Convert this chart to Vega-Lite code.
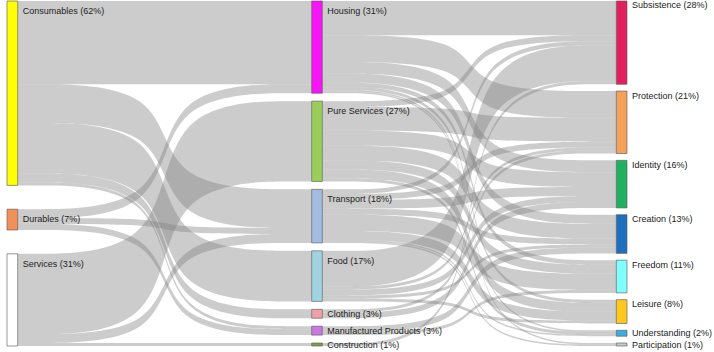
{
  "$schema": "https://vega.github.io/schema/vega-lite/v6.json",
  "width": 620,
  "height": 345,
  "autosize": "none",
  "padding": {"left": 7, "top": 1, "right": 87, "bottom": 6},
  "background": "white",
  "config": {"view": {"stroke": null}},
  "data": {"values": [
      {"s": "Consumables", "t": "Housing", "v": 28},
      {"s": "Consumables", "t": "Transport", "v": 13},
      {"s": "Consumables", "t": "Food", "v": 17},
      {"s": "Consumables", "t": "Clothing", "v": 3},
      {"s": "Consumables", "t": "Manufactured Products", "v": 1},
      {"s": "Durables", "t": "Housing", "v": 3},
      {"s": "Durables", "t": "Transport", "v": 2},
      {"s": "Durables", "t": "Manufactured Products", "v": 2},
      {"s": "Services", "t": "Pure Services", "v": 27},
      {"s": "Services", "t": "Transport", "v": 3},
      {"s": "Services", "t": "Construction", "v": 1},
      {"s": "Housing", "t": "Subsistence", "v": 11.5},
      {"s": "Housing", "t": "Protection", "v": 9},
      {"s": "Housing", "t": "Identity", "v": 4},
      {"s": "Housing", "t": "Creation", "v": 3},
      {"s": "Housing", "t": "Freedom", "v": 1.5},
      {"s": "Housing", "t": "Leisure", "v": 1},
      {"s": "Housing", "t": "Understanding", "v": 0.5},
      {"s": "Housing", "t": "Participation", "v": 0.5},
      {"s": "Pure Services", "t": "Subsistence", "v": 2},
      {"s": "Pure Services", "t": "Protection", "v": 8},
      {"s": "Pure Services", "t": "Identity", "v": 5},
      {"s": "Pure Services", "t": "Creation", "v": 5},
      {"s": "Pure Services", "t": "Freedom", "v": 3},
      {"s": "Pure Services", "t": "Leisure", "v": 3},
      {"s": "Pure Services", "t": "Understanding", "v": 1},
      {"s": "Transport", "t": "Subsistence", "v": 1.5},
      {"s": "Transport", "t": "Protection", "v": 2},
      {"s": "Transport", "t": "Identity", "v": 3},
      {"s": "Transport", "t": "Creation", "v": 2},
      {"s": "Transport", "t": "Freedom", "v": 5.5},
      {"s": "Transport", "t": "Leisure", "v": 3},
      {"s": "Transport", "t": "Understanding", "v": 0.5},
      {"s": "Transport", "t": "Participation", "v": 0.5},
      {"s": "Food", "t": "Subsistence", "v": 12},
      {"s": "Food", "t": "Protection", "v": 1},
      {"s": "Food", "t": "Identity", "v": 2},
      {"s": "Food", "t": "Creation", "v": 1},
      {"s": "Food", "t": "Leisure", "v": 1},
      {"s": "Clothing", "t": "Protection", "v": 1},
      {"s": "Clothing", "t": "Identity", "v": 2},
      {"s": "Manufactured Products", "t": "Creation", "v": 2},
      {"s": "Manufactured Products", "t": "Freedom", "v": 1},
      {"s": "Construction", "t": "Subsistence", "v": 1}
  ]},
  "transform": [
    {"calculate": "indexof(['Consumables','Durables','Services','Housing','Pure Services','Transport','Food','Clothing','Manufactured Products','Construction','Subsistence','Protection','Identity','Creation','Freedom','Leisure','Understanding','Participation'], datum.s)", "as": "sord"},
    {"calculate": "indexof(['Consumables','Durables','Services','Housing','Pure Services','Transport','Food','Clothing','Manufactured Products','Construction','Subsistence','Protection','Identity','Creation','Freedom','Leisure','Understanding','Participation'], datum.t)", "as": "tord"},
    {"calculate": "datum.sord < 3 ? 0 : (datum.sord < 10 ? 1 : 2)", "as": "scol"},
    {"calculate": "datum.tord < 3 ? 0 : (datum.tord < 10 ? 1 : 2)", "as": "tcol"},
    {"window": [{"op": "sum", "field": "v", "as": "scum"}], "groupby": ["scol"], "sort": [{"field": "sord"}, {"field": "tord"}]},
    {"window": [{"op": "sum", "field": "v", "as": "tcum"}], "groupby": ["tcol"], "sort": [{"field": "tord"}, {"field": "sord"}]},
    {"window": [{"op": "dense_rank", "as": "sr"}], "groupby": ["scol"], "sort": [{"field": "sord"}]},
    {"window": [{"op": "dense_rank", "as": "tr"}], "groupby": ["tcol"], "sort": [{"field": "tord"}]},
    {"joinaggregate": [{"op": "sum", "field": "v", "as": "stot"}, {"op": "distinct", "field": "s", "as": "sn"}], "groupby": ["scol"]},
    {"joinaggregate": [{"op": "sum", "field": "v", "as": "ttot"}, {"op": "distinct", "field": "t", "as": "tn"}], "groupby": ["tcol"]},
    {"calculate": "datum.scum - datum.v + (datum.sr - 1) * (116 - datum.stot) / (datum.sn - 1)", "as": "sy0"},
    {"calculate": "datum.sy0 + datum.v", "as": "sy1"},
    {"calculate": "datum.tcum - datum.v + (datum.tr - 1) * (116 - datum.ttot) / (datum.tn - 1)", "as": "ty0"},
    {"calculate": "datum.ty0 + datum.v", "as": "ty1"},
    {"calculate": "datum.s + '>' + datum.t", "as": "lid"}
  ],
  "layer": [
    {
      "transform": [
        {"calculate": "datum.scol + 0.035", "as": "p0"},
        {"calculate": "(datum.scol + 0.035 + datum.tcol) / 2 - 0.0005", "as": "p1"},
        {"calculate": "(datum.scol + 0.035 + datum.tcol) / 2 + 0.0005", "as": "p2"},
        {"calculate": "datum.tcol", "as": "p3"},
        {"fold": ["p0", "p1", "p2", "p3"], "as": ["k", "px"]},
        {"calculate": "datum.k == 'p0' || datum.k == 'p1' ? datum.sy0 : datum.ty0", "as": "ya"},
        {"calculate": "datum.k == 'p0' || datum.k == 'p1' ? datum.sy1 : datum.ty1", "as": "yb"}
      ],
      "mark": {"type": "area", "interpolate": "basis", "fill": "#7f7f7f", "fillOpacity": 0.4},
      "encoding": {
        "x": {"field": "px", "type": "quantitative", "scale": {"domain": [0, 2.035], "nice": false, "zero": false}, "axis": null},
        "y": {"field": "ya", "type": "quantitative", "scale": {"domain": [0, 116], "reverse": true, "nice": false, "zero": false}, "axis": null},
        "y2": {"field": "yb"},
        "detail": {"field": "lid", "type": "nominal"}
      }
    },
    {
      "transform": [
        {"fold": ["s", "t"], "as": ["side", "node"]},
        {"filter": "datum.side == 's' || datum.tcol == 2"},
        {"calculate": "datum.side == 's' ? datum.sy0 : datum.ty0", "as": "a0"},
        {"calculate": "datum.side == 's' ? datum.sy1 : datum.ty1", "as": "a1"},
        {"calculate": "datum.side == 's' ? datum.scol : datum.tcol", "as": "ncol"},
        {"aggregate": [{"op": "min", "field": "a0", "as": "ny0"}, {"op": "max", "field": "a1", "as": "ny1"}, {"op": "sum", "field": "v", "as": "nv"}], "groupby": ["node", "ncol"]},
        {"calculate": "datum.ncol + 0.035", "as": "nx2"},
        {"calculate": "datum.node + ' (' + round(datum.nv) + '%)'", "as": "label"},
        {"calculate": "datum.ny0 + (datum.ncol == 2 ? min(1.5, (datum.ny1 - datum.ny0) / 2) : min(3.4, (datum.ny1 - datum.ny0) / 2))", "as": "ly"}
      ],
      "layer": [
        {
          "mark": {"type": "rect", "stroke": "#5a5a5a", "strokeWidth": 0.7, "strokeOpacity": 0.9},
          "encoding": {
            "x": {"field": "ncol", "type": "quantitative", "scale": {"domain": [0, 2.035], "nice": false, "zero": false}, "axis": null},
            "x2": {"field": "nx2"},
            "y": {"field": "ny0", "type": "quantitative", "scale": {"domain": [0, 116], "reverse": true, "nice": false, "zero": false}, "axis": null},
            "y2": {"field": "ny1"},
            "color": {"field": "node", "type": "nominal", "legend": null, "scale": {
              "domain": ["Consumables", "Durables", "Services", "Housing", "Pure Services", "Transport", "Food", "Clothing", "Manufactured Products", "Construction", "Subsistence", "Protection", "Identity", "Creation", "Freedom", "Leisure", "Understanding", "Participation"],
              "range": ["#ffff00", "#f2905a", "#ffffff", "#f516f5", "#9bcd5a", "#a3bce0", "#9fd3e0", "#f0a0a8", "#c879e0", "#7fa04a", "#e0205f", "#f4a25a", "#1fb060", "#1f6fbf", "#80ffff", "#ffc81e", "#3aaee0", "#c8c8c8"]}}
          }
        },
        {
          "mark": {"type": "text", "align": "left", "baseline": "middle", "dx": 5, "font": "Liberation Sans", "fontSize": 9, "fill": "#222222"},
          "encoding": {
            "x": {"field": "nx2", "type": "quantitative", "scale": {"domain": [0, 2.035], "nice": false, "zero": false}, "axis": null},
            "y": {"field": "ly", "type": "quantitative", "scale": {"domain": [0, 116], "reverse": true, "nice": false, "zero": false}, "axis": null},
            "text": {"field": "label", "type": "nominal"}
          }
        }
      ]
    }
  ]
}
